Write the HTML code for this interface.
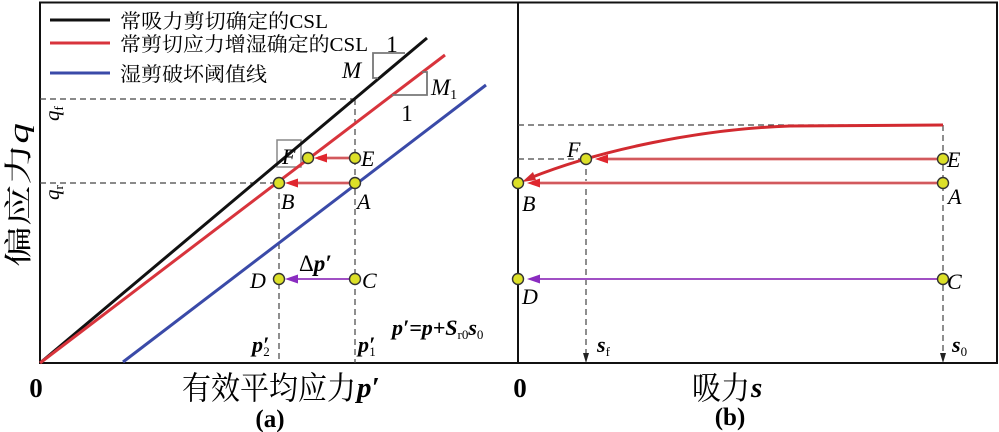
<!DOCTYPE html>
<html><head><meta charset="utf-8"><style>
html,body{margin:0;padding:0;background:#fff;}
svg{display:block;}
.cjk{font-family:"Liberation Serif","Noto Serif CJK SC",serif;}
.it{font-family:"Liberation Serif",serif;font-style:italic;}
.rm{font-family:"Liberation Serif",serif;}
</style></head><body>
<svg width="999" height="432" viewBox="0 0 999 432" xmlns="http://www.w3.org/2000/svg">
<rect width="999" height="432" fill="#fff"/>
<!-- frame -->
<rect x="40" y="2.5" width="957" height="360.5" fill="none" stroke="#111" stroke-width="2"/>
<line x1="518" y1="2" x2="518" y2="363" stroke="#111" stroke-width="2"/>

<!-- LEFT PANEL dashed -->
<g stroke="#444" stroke-width="1.2" stroke-dasharray="6,4" fill="none">
<line x1="40" y1="99" x2="354" y2="99"/>
<line x1="40" y1="183" x2="279" y2="183"/>
<line x1="355" y1="99" x2="355" y2="363"/>
<line x1="279" y1="183" x2="279" y2="363"/>
</g>

<!-- F gray box -->
<rect x="277" y="140" width="24" height="27" fill="#fff" stroke="#888" stroke-width="1.5"/>

<!-- CSL lines -->
<line x1="40" y1="363" x2="427" y2="38" stroke="#111" stroke-width="3"/>
<line x1="40" y1="363" x2="445" y2="55" stroke="#d8343c" stroke-width="3"/>
<line x1="123" y1="362" x2="486" y2="85" stroke="#3a4aa8" stroke-width="3"/>

<!-- slope triangles -->
<polyline points="405,53 373,53 373,78 378,78" fill="none" stroke="#777" stroke-width="1.8"/>
<polyline points="422,72 427,72 427,95 392,95" fill="none" stroke="#777" stroke-width="1.8"/>
<text x="392" y="52" class="rm" font-size="23" text-anchor="middle">1</text>
<text x="342" y="78" class="it" font-size="23">M</text>
<text x="431" y="95" class="it" font-size="23">M<tspan font-size="14" font-style="normal" dy="4">1</tspan></text>
<text x="407" y="121" class="rm" font-size="23" text-anchor="middle">1</text>

<!-- legend -->
<line x1="50" y1="20" x2="110" y2="20" stroke="#111" stroke-width="3"/>
<line x1="50" y1="43" x2="110" y2="43" stroke="#d8343c" stroke-width="3"/>
<line x1="50" y1="73" x2="110" y2="73" stroke="#3a4aa8" stroke-width="3"/>
<text x="120" y="28" class="cjk" font-size="20" textLength="208" lengthAdjust="spacingAndGlyphs">常吸力剪切确定的CSL</text>
<text x="120" y="51" class="cjk" font-size="20" textLength="248" lengthAdjust="spacingAndGlyphs">常剪切应力增湿确定的CSL</text>
<text x="120" y="81" class="cjk" font-size="20" textLength="147" lengthAdjust="spacingAndGlyphs">湿剪破坏阈值线</text>

<!-- arrows left -->
<g>
<line x1="355" y1="158" x2="318" y2="158" stroke="#f2c6c6" stroke-width="4"/>
<line x1="355" y1="158" x2="318" y2="158" stroke="#c8353a" stroke-width="1.6"/>
<polygon points="314,158 327,153.5 327,162.5" fill="#e0262e"/>
<line x1="355" y1="183" x2="290" y2="183" stroke="#f2c6c6" stroke-width="4"/>
<line x1="355" y1="183" x2="290" y2="183" stroke="#c8353a" stroke-width="1.6"/>
<polygon points="285,183 298,178.5 298,187.5" fill="#e0262e"/>
<line x1="355" y1="279" x2="290" y2="279" stroke="#a050c4" stroke-width="2"/>
<polygon points="285,279 298,274.5 298,283.5" fill="#8a2cc0"/>
</g>

<!-- points left -->
<g fill="#dce028" stroke="#333" stroke-width="1.4">
<circle cx="355" cy="158" r="5.5"/>
<circle cx="308" cy="158" r="5.5"/>
<circle cx="279" cy="183" r="5.5"/>
<circle cx="355" cy="183" r="5.5"/>
<circle cx="355" cy="279" r="5.5"/>
<circle cx="279" cy="279" r="5.5"/>
</g>

<!-- point labels left -->
<g class="it" font-size="22">
<text x="282" y="164">F</text>
<text x="361" y="166">E</text>
<text x="281" y="209">B</text>
<text x="357" y="209">A</text>
<text x="250" y="288">D</text>
<text x="362" y="288">C</text>
</g>
<text x="299" y="271" font-size="23"><tspan class="rm">Δ</tspan><tspan class="it" font-weight="bold">p′</tspan></text>
<text x="252" y="352" class="it" font-weight="bold" font-size="22">p′<tspan font-size="13" font-weight="normal" font-style="normal" dx="-6" dy="4">2</tspan></text>
<text x="358" y="352" class="it" font-weight="bold" font-size="22">p′<tspan font-size="13" font-weight="normal" font-style="normal" dx="-6" dy="4">1</tspan></text>
<text x="392" y="335" class="it" font-weight="bold" font-size="22">p′=p+S<tspan font-size="13" font-weight="normal" font-style="normal" dy="4">r0</tspan><tspan dy="-4">s</tspan><tspan font-size="13" font-weight="normal" font-style="normal" dy="4">0</tspan></text>

<!-- q labels rotated -->
<text transform="translate(59,121) rotate(-90)" class="it" font-size="21">q<tspan font-size="13" font-style="normal" dy="4">f</tspan></text>
<text transform="translate(59,200) rotate(-90)" class="it" font-size="21">q<tspan font-size="13" font-style="normal" dy="4">r</tspan></text>

<!-- y label -->
<text transform="translate(28,195) rotate(-90)" class="cjk" font-size="28" text-anchor="middle" textLength="144" lengthAdjust="spacingAndGlyphs">偏应力<tspan class="it" font-weight="normal">q</tspan></text>

<!-- x labels -->
<text x="36" y="397" class="rm" font-weight="bold" font-size="27" text-anchor="middle">0</text>
<text x="182" y="399" class="cjk" font-size="32" textLength="174" lengthAdjust="spacingAndGlyphs">有效平均应力</text>
<text x="357" y="397" class="it" font-weight="bold" font-size="29">p′</text>
<text x="270" y="427" class="rm" font-weight="bold" font-size="25" text-anchor="middle">(a)</text>

<text x="520" y="397" class="rm" font-weight="bold" font-size="27" text-anchor="middle">0</text>
<text x="692" y="399" class="cjk" font-size="32" textLength="58" lengthAdjust="spacingAndGlyphs">吸力</text>
<text x="751" y="397" class="it" font-weight="bold" font-size="29">s</text>
<text x="730" y="425" class="rm" font-weight="bold" font-size="25" text-anchor="middle">(b)</text>

<!-- RIGHT PANEL -->
<g stroke="#444" stroke-width="1.2" stroke-dasharray="6,4" fill="none">
<line x1="518" y1="125" x2="943" y2="125"/>
<line x1="518" y1="159" x2="586" y2="159"/>
<line x1="586" y1="159" x2="586" y2="355"/>
<line x1="943" y1="125" x2="943" y2="355"/>
</g>
<polygon points="586,363 583,353 589,353" fill="#222"/>
<polygon points="943,363 940,353 946,353" fill="#222"/>

<!-- curve -->
<path d="M943,125 L790,126 C700,129 600,150 530,178" fill="none" stroke="#d22a30" stroke-width="3"/>
<polygon points="522,182 533,172 536,180" fill="#d22a30"/>

<!-- horizontal arrows right -->
<line x1="943" y1="159" x2="600" y2="159" stroke="#f2c6c6" stroke-width="4"/>
<line x1="943" y1="159" x2="600" y2="159" stroke="#c8353a" stroke-width="1.6"/>
<polygon points="595,159 608,154.5 608,163.5" fill="#e0262e"/>
<line x1="943" y1="183" x2="532" y2="183" stroke="#f2c6c6" stroke-width="4"/>
<line x1="943" y1="183" x2="532" y2="183" stroke="#c8353a" stroke-width="1.6"/>
<polygon points="527,183 540,178.5 540,187.5" fill="#e0262e"/>
<line x1="943" y1="279" x2="532" y2="279" stroke="#a050c4" stroke-width="2"/>
<polygon points="527,279 540,274.5 540,283.5" fill="#8a2cc0"/>

<g fill="#dce028" stroke="#333" stroke-width="1.4">
<circle cx="943" cy="159" r="5.5"/>
<circle cx="943" cy="183" r="5.5"/>
<circle cx="943" cy="279" r="5.5"/>
<circle cx="586" cy="159" r="5.5"/>
<circle cx="518" cy="183" r="5.5"/>
<circle cx="518" cy="279" r="5.5"/>
</g>

<g class="it" font-size="22">
<text x="947" y="167">E</text>
<text x="948" y="204">A</text>
<text x="947" y="289">C</text>
<text x="522" y="211">B</text>
<text x="522" y="304">D</text>
<text x="567" y="157">F</text>
</g>
<text x="597" y="352" class="it" font-weight="bold" font-size="22">s<tspan font-size="13" font-weight="normal" font-style="normal" dy="4">f</tspan></text>
<text x="952" y="352" class="it" font-weight="bold" font-size="22">s<tspan font-size="13" font-weight="normal" font-style="normal" dy="4">0</tspan></text>
</svg>
</body></html>
